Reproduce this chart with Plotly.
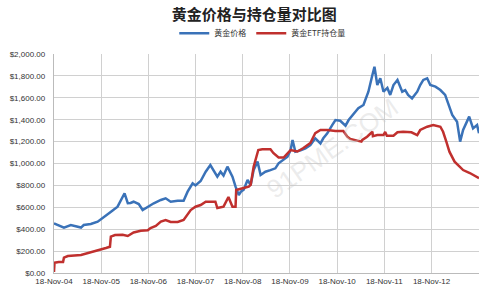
import plotly.graph_objects as go

gold_dates = ["2004-11-18","2004-12-25","2005-02-03","2005-03-28","2005-05-21","2005-06-15","2005-07-06","2005-08-30",
"2005-10-22","2005-12-08","2006-02-02","2006-03-25","2006-05-03","2006-05-18","2006-06-12","2006-07-03","2006-07-27",
"2006-09-05","2006-10-05","2006-11-14","2006-12-30","2007-02-23","2007-04-01","2007-05-10","2007-07-03","2007-08-18",
"2007-09-18","2007-10-27","2007-11-18","2007-12-28","2008-02-05","2008-03-12","2008-04-05","2008-05-05","2008-05-30",
"2008-06-22","2008-07-22","2008-08-30","2008-09-23","2008-10-18","2008-11-03","2008-11-25","2008-12-25","2009-01-18",
"2009-02-10","2009-03-12","2009-04-05","2009-05-12","2009-06-20","2009-07-28","2009-08-22","2009-09-30","2009-10-30",
"2009-11-23","2009-12-08","2009-12-30","2010-02-08","2010-03-18","2010-04-25","2010-06-02","2010-07-12","2010-08-03",
"2010-09-03","2010-10-12","2010-11-05","2010-12-12","2011-01-22","2011-02-15","2011-03-22","2011-05-01","2011-06-10",
"2011-07-18","2011-08-18","2011-09-03","2011-09-25","2011-10-18","2011-11-12","2011-12-12","2012-01-03","2012-01-28",
"2012-02-28","2012-04-05","2012-04-28","2012-05-20","2012-06-20","2012-07-30","2012-08-22","2012-09-15","2012-10-15",
"2012-11-08","2012-12-18","2013-01-25","2013-03-03","2013-03-27","2013-04-27","2013-06-03","2013-06-27","2013-07-20",
"2013-08-20","2013-09-05","2013-10-05","2013-11-05","2013-11-20"]
gold_price = [454,438,415,438,423,415,438,447,
469,514,560,606,697,728,637,640,651,
630,575,606,637,667,682,651,660,660,
743,819,800,840,925,986,940,880,925,
890,971,880,788,712,742,760,849,804,
940,1017,895,925,940,956,1002,1032,1062,
1123,1215,1108,1120,1139,1169,1230,1184,1230,
1276,1352,1397,1390,1345,1397,1443,1504,1534,
1656,1808,1884,1717,1778,1656,1690,1626,1717,
1763,1656,1670,1626,1595,1656,1717,1763,1778,
1717,1702,1671,1626,1550,1443,1382,1200,1306,
1382,1428,1321,1352,1276]

etf_dates = ["2004-11-18","2004-11-22","2004-12-25","2005-01-27","2005-02-03","2005-03-05","2005-06-15","2005-09-22",
"2005-11-15","2005-12-25","2006-01-25","2006-02-01","2006-03-05","2006-05-03","2006-06-12","2006-07-27","2006-09-20",
"2006-11-14","2006-12-05","2007-01-15","2007-02-23","2007-04-01","2007-05-10","2007-07-03","2007-08-18","2007-09-18",
"2007-10-12","2007-11-18","2007-12-28","2008-02-05","2008-04-20","2008-05-05","2008-06-22","2008-07-30","2008-08-30",
"2008-09-23","2008-09-28","2008-11-03","2009-01-03","2009-01-18","2009-02-10","2009-03-18","2009-04-18","2009-06-20",
"2009-07-12","2009-08-22","2009-09-30","2009-11-23","2010-01-15","2010-03-02","2010-04-25","2010-06-02","2010-07-12",
"2010-09-03","2010-11-05","2011-01-05","2011-02-05","2011-02-28","2011-04-10","2011-05-25","2011-06-01","2011-07-08",
"2011-08-18","2011-08-22","2011-09-25","2011-11-12","2011-11-25","2011-12-08","2012-01-28","2012-02-28","2012-04-12",
"2012-06-15","2012-07-30","2012-08-22","2012-10-15","2012-12-01","2013-01-25","2013-02-15","2013-03-12","2013-04-05",
"2013-05-15","2013-06-27","2013-07-20","2013-09-10","2013-11-05","2013-11-20"]
etf_holdings = [10,94,100,100,140,155,165,195,
210,228,240,332,347,350,338,370,386,
390,411,430,470,484,466,466,484,530,
575,605,621,651,651,593,606,694,606,
606,758,770,788,804,970,1123,1130,1130,
1096,1055,1055,1123,1110,1141,1187,1278,1306,
1306,1297,1297,1245,1224,1210,1200,1215,1245,
1290,1250,1260,1260,1288,1254,1254,1285,1290,
1285,1260,1306,1336,1352,1336,1290,1200,1108,
1017,971,940,913,870,865]

x_ticks = ["2004-11-18","2005-11-18","2006-11-18","2007-11-18","2008-11-18","2009-11-18",
           "2010-11-18","2011-11-18","2012-11-18","2013-11-18"]
x_tick_labels = ["18-Nov-04","18-Nov-05","18-Nov-06","18-Nov-07","18-Nov-08","18-Nov-09",
                 "18-Nov-10","18-Nov-11","18-Nov-12",""]
series_names = ["黄金价格", "黄金ETF持仓量"]

fig = go.Figure()
fig.add_trace(go.Scatter(x=gold_dates, y=gold_price, mode="lines", name=series_names[0],
                         line=dict(color="#3A72B8", width=2.5)))
fig.add_trace(go.Scatter(x=etf_dates, y=etf_holdings, mode="lines", name=series_names[1],
                         line=dict(color="#C0302E", width=2.5)))

fig.update_layout(
    width=489, height=303,
    margin=dict(l=54, r=10, t=54, b=30),
    paper_bgcolor="white", plot_bgcolor="white",
    font=dict(family="Liberation Sans, Arial", size=8, color="#333333"),
    title=dict(text="<b>黄金价格与持仓量对比图</b>", x=0.52, xanchor="center", y=0.952, yanchor="middle",
               font=dict(family="Noto Sans CJK SC", size=15, color="#222222")),
    legend=dict(orientation="h", x=0.49, xanchor="center", y=1.095, yanchor="middle",
                font=dict(family="Noto Sans CJK SC", size=8, color="#333333"),
                itemwidth=30, tracegroupgap=0, bgcolor="rgba(0,0,0,0)"),
    xaxis=dict(type="date", range=["2004-11-18", "2013-11-20"], tickvals=x_ticks, ticktext=x_tick_labels,
               showgrid=True, gridcolor="#D0D0D0", gridwidth=1.3, showline=True, linecolor="#BBBBBB",
               linewidth=1.3, ticks="", tickfont=dict(size=8, color="#333333"), zeroline=False),
    yaxis=dict(range=[0, 2000], dtick=200, tickformat="$,.2f", showgrid=True, gridcolor="#D0D0D0",
               gridwidth=1.3, showline=True, linecolor="#BBBBBB", linewidth=1.3, ticks="",
               ticklabelstandoff=6,
               tickfont=dict(size=8, color="#333333"), zeroline=False),
    annotations=[dict(text="91PME.COM", x=0.83, y=0.3, xref="paper", yref="paper", showarrow=False,
                      textangle=-35, font=dict(family="Liberation Sans", size=26, color="rgba(200,200,200,0.35)"))],
)

fig.write_html("out.html")
